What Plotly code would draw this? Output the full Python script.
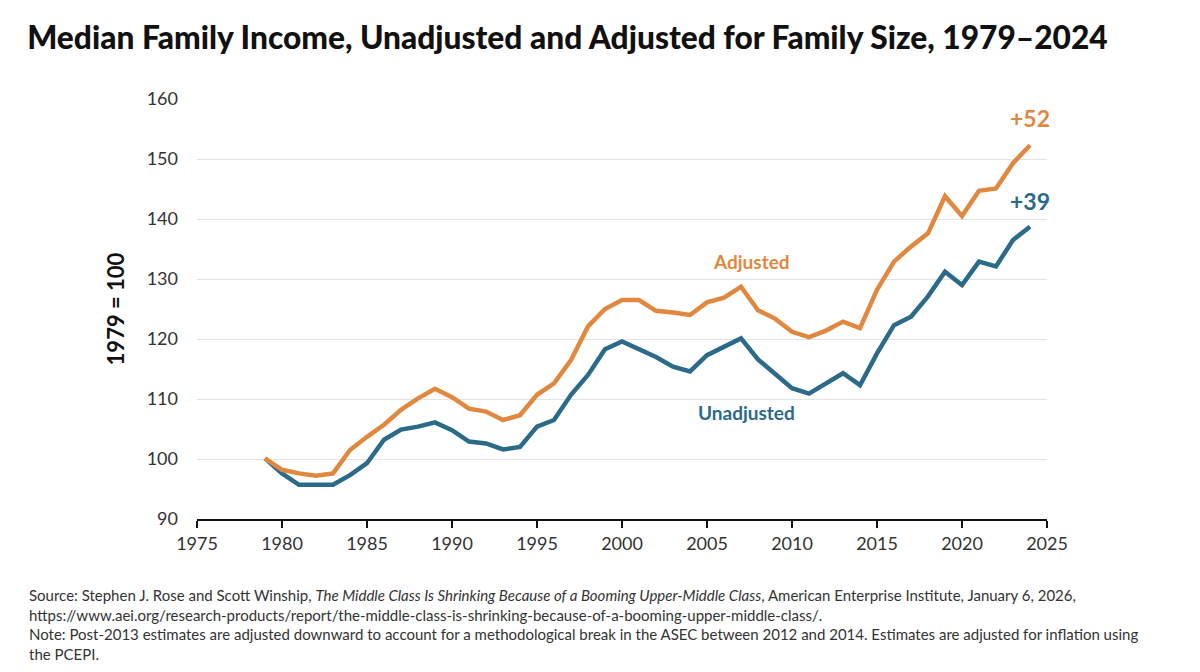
import plotly.graph_objects as go

years = list(range(1979, 2025))

adjusted = [100.1, 98.2, 97.6, 97.2, 97.6, 101.5, 103.7, 105.7, 108.2, 110.1,
            111.7, 110.3, 108.4, 107.9, 106.5, 107.3, 110.7, 112.6, 116.5, 122.1,
            125.0, 126.5, 126.5, 124.7, 124.4, 124.0, 126.1, 126.9, 128.7, 124.8,
            123.4, 121.2, 120.3, 121.4, 122.9, 121.8, 128.2, 132.9, 135.4, 137.6,
            143.8, 140.5, 144.7, 145.1, 149.3, 152.3]

unadjusted = [100.1, 97.6, 95.7, 95.7, 95.7, 97.3, 99.3, 103.2, 104.9, 105.4,
              106.1, 104.8, 102.9, 102.6, 101.6, 102.0, 105.4, 106.5, 110.7, 114.0,
              118.3, 119.6, 118.4, 117.0, 115.4, 114.6, 117.3, 118.8, 120.1, 116.6,
              114.3, 111.8, 110.9, 112.5, 114.3, 112.3, 117.6, 122.3, 123.7, 127.1,
              131.2, 129.0, 132.9, 132.1, 136.5, 138.7]

orange = "#E0883F"
blue = "#2B6A88"
font = "Lato"

fig = go.Figure()
fig.add_trace(go.Scatter(x=years, y=unadjusted, mode="lines", name="Unadjusted",
                         line=dict(color=blue, width=4.5)))
fig.add_trace(go.Scatter(x=years, y=adjusted, mode="lines", name="Adjusted",
                         line=dict(color=orange, width=4.5)))

# series labels
fig.add_annotation(x=2007.6, y=133, text="Adjusted", showarrow=False,
                   font=dict(family=font, size=19, color=orange, weight="bold"))
fig.add_annotation(x=2007.35, y=107.7, text="Unadjusted", showarrow=False,
                   font=dict(family=font, size=19, color=blue, weight="bold"))
fig.add_annotation(x=years[-1], y=adjusted[-1], text="+52", showarrow=False,
                   yshift=27, font=dict(family=font, size=23, color=orange, weight="bold"))
fig.add_annotation(x=years[-1], y=unadjusted[-1], text="+39", showarrow=False,
                   yshift=26, font=dict(family=font, size=23, color=blue, weight="bold"))

footnote = ("Source: Stephen J. Rose and Scott Winship, <i>The Middle Class Is Shrinking Because of a "
            "Booming Upper-Middle Class</i>, American Enterprise Institute, January 6, 2026,<br>"
            "https://www.aei.org/research-products/report/the-middle-class-is-shrinking-because-of-a-"
            "booming-upper-middle-class/.<br>"
            "Note: Post-2013 estimates are adjusted downward to account for a methodological break in the "
            "ASEC between 2012 and 2014. Estimates are adjusted for inflation using<br>the PCEPI.")
fig.add_annotation(xref="paper", yref="paper", x=-0.2, y=-0.155, xanchor="left", yanchor="top",
                   text=footnote, showarrow=False, align="left",
                   font=dict(family=font, size=15, color="#333333"))

fig.update_layout(
    width=1200, height=672,
    paper_bgcolor="white", plot_bgcolor="white",
    margin=dict(l=189, r=161, t=91, b=161),
    showlegend=False,
    title=dict(text="Median Family Income, Unadjusted and Adjusted for Family Size, 1979–2024",
               x=0.016, xanchor="left", y=0.955, yanchor="middle",
               font=dict(family=font, size=31.7, color="#111111", weight=900)),
    font=dict(family=font, color="#333333"),
)
fig.update_xaxes(range=[1975, 2025], dtick=5, tick0=1975, showgrid=False,
                 showline=True, linecolor="#111111", linewidth=2,
                 ticks="outside", ticklen=7, tickwidth=2, tickcolor="#111111",
                 tickfont=dict(family=font, size=18, color="#333333"))
fig.update_yaxes(range=[90, 160], dtick=10, showgrid=True, gridcolor="#e3e3e3",
                 gridwidth=1, zeroline=False, ticks="", ticklabelstandoff=18,
                 title=dict(text="<b>1979 = 100</b>", standoff=15,
                            font=dict(family=font, size=22, color="#111111")),
                 tickfont=dict(family=font, size=18, color="#333333"))

fig.write_html("out.html")
